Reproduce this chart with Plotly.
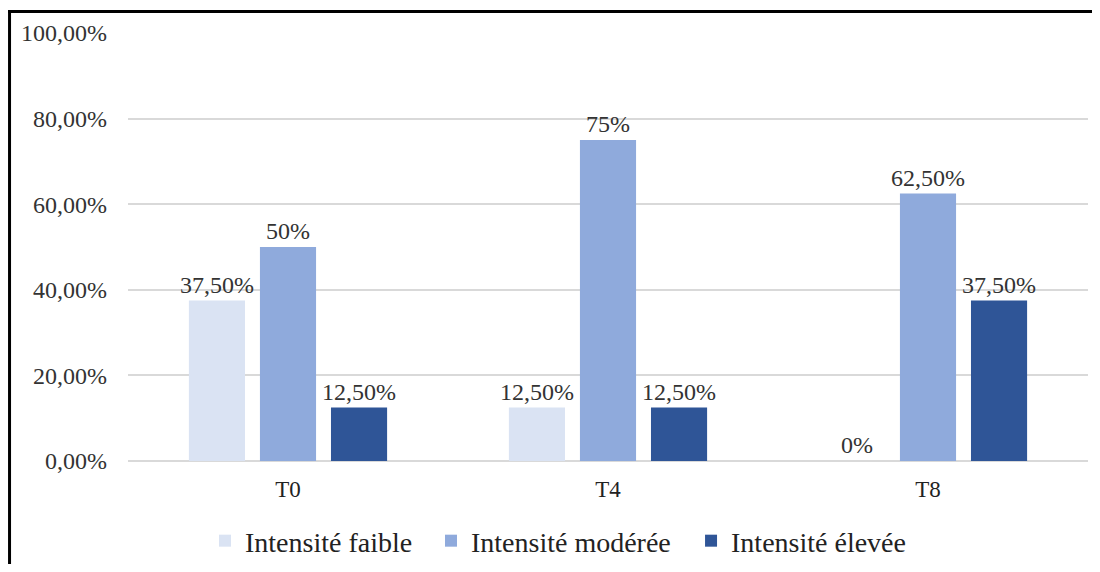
import plotly.graph_objects as go

categories = ["T0", "T4", "T8"]
series_names = ["Intensité faible", "Intensité modérée", "Intensité élevée"]
faible = [37.5, 12.5, 0.0]
moderee = [50.0, 75.0, 62.5]
elevee = [12.5, 12.5, 37.5]
faible_labels = ["37,50%", "12,50%", "0%"]
moderee_labels = ["50%", "75%", "62,50%"]
elevee_labels = ["12,50%", "12,50%", "37,50%"]
tick_vals = [0, 20, 40, 60, 80, 100]
tick_text = ["0,00%", "20,00%", "40,00%", "60,00%", "80,00%", "100,00%"]

colors = ["#DAE3F3", "#8FAADC", "#2F5597"]
FONT = "Liberation Serif, Times New Roman, serif"
legend_ids = ["legend", "legend2", "legend3"]
legend_x = [0.0802, 0.3156, 0.5865]

fig = go.Figure()
for name, vals, labels, col, lid in zip(series_names, [faible, moderee, elevee],
                                        [faible_labels, moderee_labels, elevee_labels],
                                        colors, legend_ids):
    fig.add_trace(go.Bar(
        x=categories, y=vals, name=name, text=labels, legend=lid,
        textposition="outside", cliponaxis=False, constraintext="none",
        textfont=dict(family=FONT, size=24, color="#333333"),
        marker=dict(color=col, line=dict(width=0)),
    ))

legend_common = dict(orientation="h", xanchor="left", yref="container", y=0.0414,
                     yanchor="middle", itemwidth=30,
                     font=dict(family=FONT, size=28, color="#222222"))

fig.update_layout(
    width=1092, height=556,
    margin=dict(l=120, r=12, t=25, b=103),
    paper_bgcolor="white", plot_bgcolor="white",
    barmode="group", bargap=0.334, bargroupgap=0.21,
    font=dict(family=FONT, size=20, color="#333333"),
    showlegend=True,
    legend=dict(x=legend_x[0], **legend_common),
    legend2=dict(x=legend_x[1], **legend_common),
    legend3=dict(x=legend_x[2], **legend_common),
    xaxis=dict(showgrid=False, showline=False, ticks="", ticklabelstandoff=12,
               tickfont=dict(family=FONT, size=23, color="#222222")),
    yaxis=dict(range=[0, 100], tickvals=tick_vals, ticktext=tick_text,
               showgrid=True, gridcolor="#D9D9D9", gridwidth=1.5,
               zeroline=True, zerolinecolor="#D9D9D9", zerolinewidth=1.5,
               showline=False, ticks="", ticklabelstandoff=20,
               tickfont=dict(family=FONT, size=24, color="#333333")),
    shapes=[
        dict(type="line", xref="paper", yref="paper", x0=-0.1234, x1=-0.1234,
             y0=1.0502, y1=-0.27, line=dict(color="black", width=3)),
        dict(type="line", xref="paper", yref="paper", x0=-0.1255, x1=1.02,
             y0=1.0502, y1=1.0502, line=dict(color="black", width=3)),
    ],
)

fig.write_html("out.html")
